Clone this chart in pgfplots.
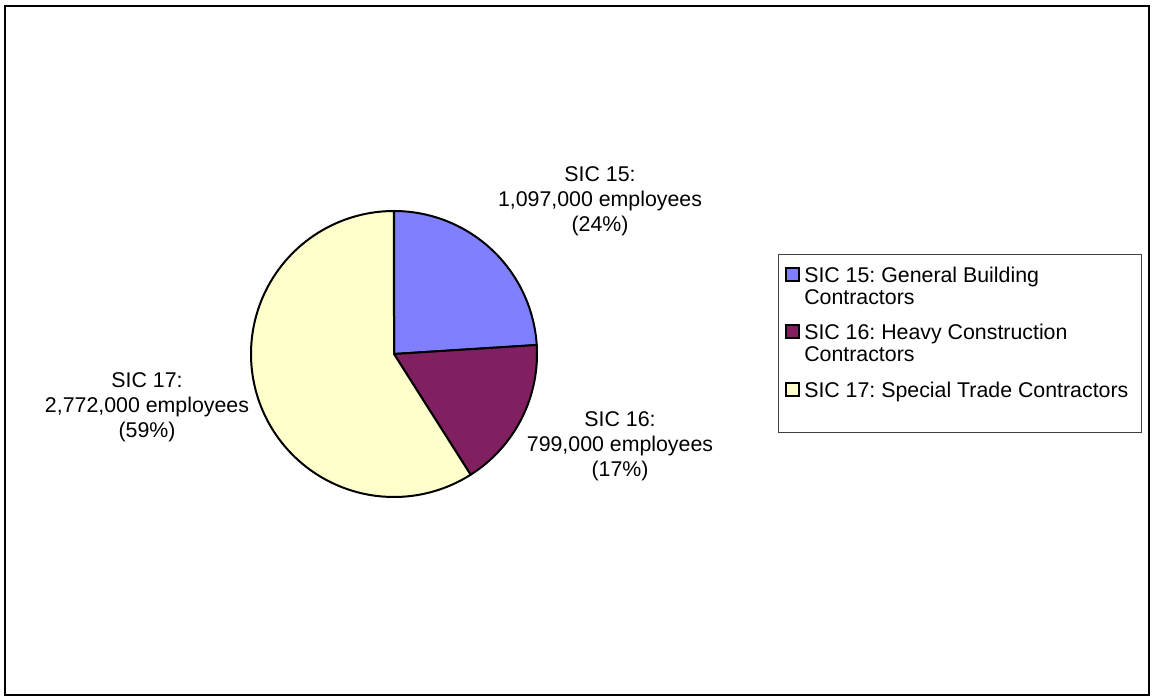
\documentclass[border=0pt]{standalone}
\usepackage{pgfplots}
\pgfplotsset{compat=1.18}
\usepackage{pgfplotstable}
\usepackage{fontspec}
\setmainfont{Liberation Sans}
\frenchspacing
\definecolor{c15}{HTML}{8080FF}
\definecolor{c16}{HTML}{802060}
\definecolor{c17}{HTML}{FFFFCC}
% share of employees in percent (as drawn), employees
\pgfplotstableread{
sic share employees
15 24 1097000
16 17 799000
17 59 2772000
}\piedata
\newcommand{\lblfont}{\fontsize{16pt}{19pt}\selectfont}
\begin{document}
\begin{tikzpicture}
\pgfplotstablegetelem{0}{share}\of\piedata \pgfmathsetmacro{\sA}{\pgfplotsretval}
\pgfplotstablegetelem{1}{share}\of\piedata \pgfmathsetmacro{\sB}{\pgfplotsretval}
\pgfplotstablegetelem{2}{share}\of\piedata \pgfmathsetmacro{\sC}{\pgfplotsretval}
\pgfmathsetmacro{\tot}{\sA+\sB+\sC}
\pgfmathsetmacro{\aA}{90}
\pgfmathsetmacro{\aB}{\aA-\sA/\tot*360}
\pgfmathsetmacro{\aC}{\aB-\sB/\tot*360}
\pgfmathsetmacro{\aD}{\aC-\sC/\tot*360}
\begin{axis}[at={(0pt,0pt)}, anchor=south west, scale only axis,
  width=865.5pt, height=525pt, xmin=0, xmax=1154, ymin=0, ymax=700,
  axis lines=none, clip=false]
\addplot[fill=c15, draw=black, line width=1.5pt, line join=round, domain=\aB:\aA, samples=80, variable=\t]
  ({394+143*cos(\t)},{346+143*sin(\t)}) -- (axis cs:394,346) -- cycle;
\addplot[fill=c16, draw=black, line width=1.5pt, line join=round, domain=\aC:\aB, samples=80, variable=\t]
  ({394+143*cos(\t)},{346+143*sin(\t)}) -- (axis cs:394,346) -- cycle;
\addplot[fill=c17, draw=black, line width=1.5pt, line join=round, domain=\aD:\aC, samples=160, variable=\t]
  ({394+143*cos(\t)},{346+143*sin(\t)}) -- (axis cs:394,346) -- cycle;
% data labels
\node[font=\lblfont, anchor=base] at (axis cs:600,518) {SIC 15:};
\node[font=\lblfont, anchor=base] at (axis cs:600,493) {1,097,000 employees};
\node[font=\lblfont, anchor=base] at (axis cs:600,468) {(24\%)};
\node[font=\lblfont, anchor=base] at (axis cs:620,273) {SIC 16:};
\node[font=\lblfont, anchor=base] at (axis cs:620,248) {799,000 employees};
\node[font=\lblfont, anchor=base] at (axis cs:620,223) {(17\%)};
\node[font=\lblfont, anchor=base] at (axis cs:147,312) {SIC 17:};
\node[font=\lblfont, anchor=base] at (axis cs:147,287) {2,772,000 employees};
\node[font=\lblfont, anchor=base] at (axis cs:147,262) {(59\%)};
% legend
\draw[line width=0.75pt, black!75] (axis cs:778,445) rectangle (axis cs:1141,267);
\draw[fill=c15, line width=1.3pt] (axis cs:786,432) rectangle (axis cs:799,419);
\draw[fill=c16, line width=1.3pt] (axis cs:786,375) rectangle (axis cs:799,362);
\draw[fill=c17, line width=1.3pt] (axis cs:786,317) rectangle (axis cs:799,304);
\node[font=\lblfont, anchor=base west, inner sep=0pt] at (axis cs:804,417) {SIC 15: General Building};
\node[font=\lblfont, anchor=base west, inner sep=0pt] at (axis cs:804,395) {Contractors};
\node[font=\lblfont, anchor=base west, inner sep=0pt] at (axis cs:804,360) {SIC 16: Heavy Construction};
\node[font=\lblfont, anchor=base west, inner sep=0pt] at (axis cs:804,338) {Contractors};
\node[font=\lblfont, anchor=base west, inner sep=0pt] at (axis cs:804,302) {SIC 17: Special Trade Contractors};
% chart border
\draw[line width=1.5pt] (axis cs:5,5) rectangle (axis cs:1149,694);
\end{axis}
\pgfresetboundingbox
\path (0pt,0pt) rectangle (865.5pt,525pt);
\end{tikzpicture}
\end{document}
